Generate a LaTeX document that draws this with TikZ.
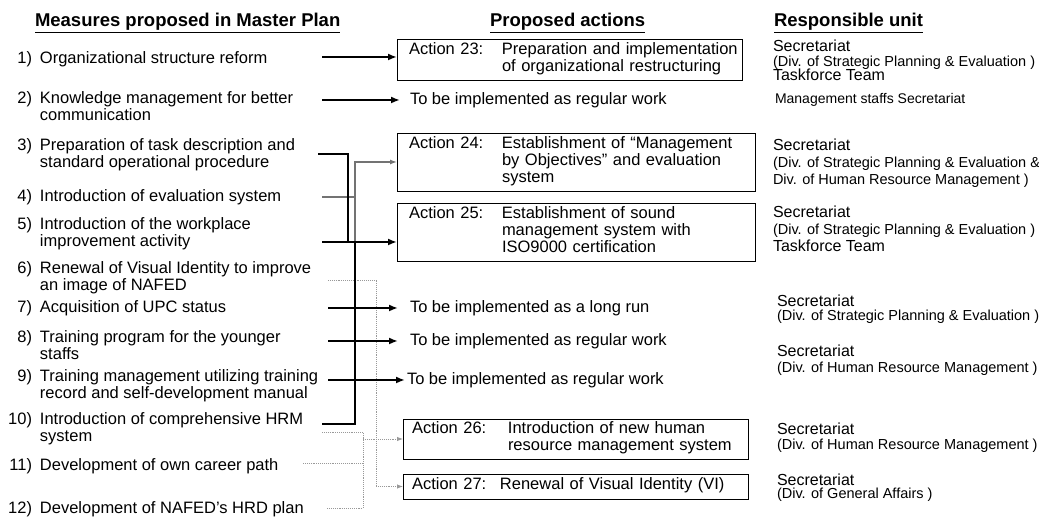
\documentclass[tikz,border=0pt]{standalone}
\usepackage{fontspec}
\setmainfont{Liberation Sans}
\usetikzlibrary{arrows.meta}

% numbered measure: right-aligned number, then one or more text lines
\newcommand\measure[2]{\begin{tabular}{@{}l@{\hspace{8pt}}l@{}}\makebox[24pt][r]{#1} & #2\end{tabular}}
% action box content: label column of given width, then description lines
\newcommand\actiontext[3]{\begin{tabular}{@{}p{#1}@{}l@{}}#2 & #3\end{tabular}}

\begin{document}
\begin{tikzpicture}[x=1pt,y=-1pt,
  every node/.style={inner sep=0pt,outer sep=0pt},
  heading/.style={font=\fontsize{18.5}{20}\selectfont\bfseries,anchor=base west},
  measuretext/.style={font=\fontsize{16.5}{17}\selectfont,anchor=west},
  plain/.style={font=\fontsize{16.5}{17}\selectfont,anchor=west},
  actbox/.style={draw=black,line width=0.9pt,anchor=north west,inner ysep=0pt,
     font=\fontsize{16.5}{17}\selectfont,align=left},
  unitmain/.style={font=\fontsize{16}{17}\selectfont,anchor=base west},
  unitsub/.style={font=\fontsize{14.5}{15}\selectfont,anchor=base west},
  unitsmall/.style={font=\fontsize{14}{15}\selectfont,anchor=base west},
  mainlink/.style={line width=2.4pt,line join=miter},
  tip/.style={-{Latex[length=9pt,width=7pt]}},
  greylink/.style={draw=black!55,line width=1.3pt},
  greytip/.style={-{Latex[length=7pt,width=5pt]}},
  faintlink/.style={draw=black!40,line width=0.9pt,densely dotted},
  fainttip/.style={-{Latex[length=6pt,width=4.5pt]}},
]
\useasboundingbox (0,0) rectangle (1039,518);

% column headings
\node[heading] (h1) at (35,27) {\underline{Measures proposed in Master Plan}};
\node[heading] (h2) at (490,27) {\underline{Proposed actions}};
\node[heading] (h3) at (774,27) {\underline{Responsible unit}};

% measures of the master plan
\node[measuretext] (m1) at (8,60) {\measure{1)}{Organizational structure reform}};
\node[measuretext] (m2) at (8,109) {\measure{2)}{Knowledge management for better\\ & communication}};
\node[measuretext] (m3) at (8,156) {\measure{3)}{Preparation of task description and\\ & standard operational procedure}};
\node[measuretext] (m4) at (8,198) {\measure{4)}{Introduction of evaluation system}};
\node[measuretext] (m5) at (8,235) {\measure{5)}{Introduction of the workplace\\ & improvement activity}};
\node[measuretext] (m6) at (8,279) {\measure{6)}{Renewal of Visual Identity to improve\\ & an image of NAFED}};
\node[measuretext] (m7) at (8,309) {\measure{7)}{Acquisition of UPC status}};
\node[measuretext] (m8) at (8,348) {\measure{8)}{Training program for the younger\\ & staffs}};
\node[measuretext] (m9) at (8,387) {\measure{9)}{Training management utilizing training\\ & record and self-development manual}};
\node[measuretext] (m10) at (8,430) {\measure{10)}{Introduction of comprehensive HRM\\ & system}};
\node[measuretext] (m11) at (8,467) {\measure{11)}{Development of own career path}};
\node[measuretext] (m12) at (8,510) {\measure{12)}{Development of NAFED's HRD plan}};

% proposed actions
\node[actbox,text width=321pt,inner xsep=12pt,minimum height=41pt] (a23) at (397,39)
  {\actiontext{93pt}{Action 23:}{Preparation and implementation\\ & of organizational restructuring}};
\node[actbox,text width=334pt,inner xsep=12pt,minimum height=58pt] (a24) at (397,133)
  {\actiontext{93pt}{Action 24:}{Establishment of ``Management\\ & by Objectives'' and evaluation\\ & system}};
\node[actbox,text width=334pt,inner xsep=12pt,minimum height=58pt] (a25) at (397,203)
  {\actiontext{93pt}{Action 25:}{Establishment of sound\\ & management system with\\ & ISO9000 certification}};
\node[actbox,text width=327pt,inner xsep=9pt,minimum height=40pt] (a26) at (403,419)
  {\actiontext{96pt}{Action 26:}{Introduction of new human\\ & resource management system}};
\node[actbox,text width=327pt,inner xsep=9pt,minimum height=25pt] (a27) at (403,474)
  {\actiontext{88pt}{Action 27:}{Renewal of Visual Identity (VI)}};

\node[plain] (r2) at (410,100) {To be implemented as regular work};
\node[plain] (r7) at (410,308) {To be implemented as a long run};
\node[plain] (r8) at (410,341) {To be implemented as regular work};
\node[plain] (r9) at (407,380) {To be implemented as regular work};

% responsible units
\node[unitmain] (u1a) at (773,52) {Secretariat};
\node[unitsub] (u1b) at (773,66.5) {(Div. of Strategic Planning \& Evaluation )};
\node[unitmain] (u1c) at (773,81) {Taskforce Team};
\node[unitsmall] (u2) at (775,104) {Management staffs Secretariat};
\node[unitmain] (u3a) at (773,151) {Secretariat};
\node[unitsub] (u3b) at (773,167.5) {(Div. of Strategic Planning \& Evaluation \&};
\node[unitsub] (u3c) at (773,184.5) {Div. of Human Resource Management )};
\node[unitmain] (u4a) at (773,218) {Secretariat};
\node[unitsub] (u4b) at (773,234.5) {(Div. of Strategic Planning \& Evaluation )};
\node[unitmain] (u4c) at (773,252) {Taskforce Team};
\node[unitmain] (u5a) at (777,307) {Secretariat};
\node[unitsub] (u5b) at (777,320.5) {(Div. of Strategic Planning \& Evaluation )};
\node[unitmain] (u6a) at (777,357) {Secretariat};
\node[unitsub] (u6b) at (777,372.5) {(Div. of Human Resource Management )};
\node[unitmain] (u7a) at (777,435) {Secretariat};
\node[unitsub] (u7b) at (777,449.5) {(Div. of Human Resource Management )};
\node[unitmain] (u8a) at (777,485) {Secretariat};
\node[unitsub] (u8b) at (777,498.5) {(Div. of General Affairs )};

% connector end points beside the measures
\coordinate (p1) at (322,57);
\coordinate (p2) at (322,100);
\coordinate (p3) at (318,154);
\coordinate (k3) at (348,154);
\coordinate (k5) at (348,242);
\coordinate (p4) at (322,197);
\coordinate (k4) at (355,197);
\coordinate (k24) at (355,162);
\coordinate (k4low) at (355,242);
\coordinate (p5) at (322,242);
\coordinate (p6) at (328,280);
\coordinate (k6) at (376,280);
\coordinate (p7) at (328,308);
\coordinate (p8) at (328,341);
\coordinate (p9) at (328,380);
\coordinate (p10) at (322,424);
\coordinate (k10) at (355,424);
\coordinate (q10) at (322,432);
\coordinate (v10) at (363,432);
\coordinate (q11) at (303,463);
\coordinate (v11) at (363,463);
\coordinate (q12) at (327,508);
\coordinate (v12) at (363,508);

% faint dotted links
\draw[faintlink,fainttip] (p6) -- (k6) -- (k6 |- a27.west) -- (a27.west);
\draw[faintlink] (q10) -- (v10) -- (v12) -- (q12);
\draw[faintlink] (q11) -- (v11);
\draw[faintlink,fainttip] (v10 |- a26.west) -- (a26.west);

% grey link towards action 24
\draw[greylink] (k4) -- (k4low);
\draw[greylink,greytip] (p4) -- (k4) -- (k24) -- (k24 -| a24.west);

% main links
\draw[mainlink,tip] (p1) -- (p1 -| a23.west);
\draw[mainlink,tip] (p2) -- ([xshift=-10pt]r2.west);
\draw[mainlink] (p3) -- (k3) -- (k5);
\draw[mainlink] (p10) -- (k10) -- (k4low);
\draw[mainlink,tip] (p5) -- (p5 -| a25.west);
\draw[mainlink,tip] (p7) -- ([xshift=-12pt]r7.west);
\draw[mainlink,tip] (p8) -- ([xshift=-12pt]r8.west);
\draw[mainlink,tip] (p9) -- ([xshift=-2pt]r9.west);
\end{tikzpicture}
\end{document}
